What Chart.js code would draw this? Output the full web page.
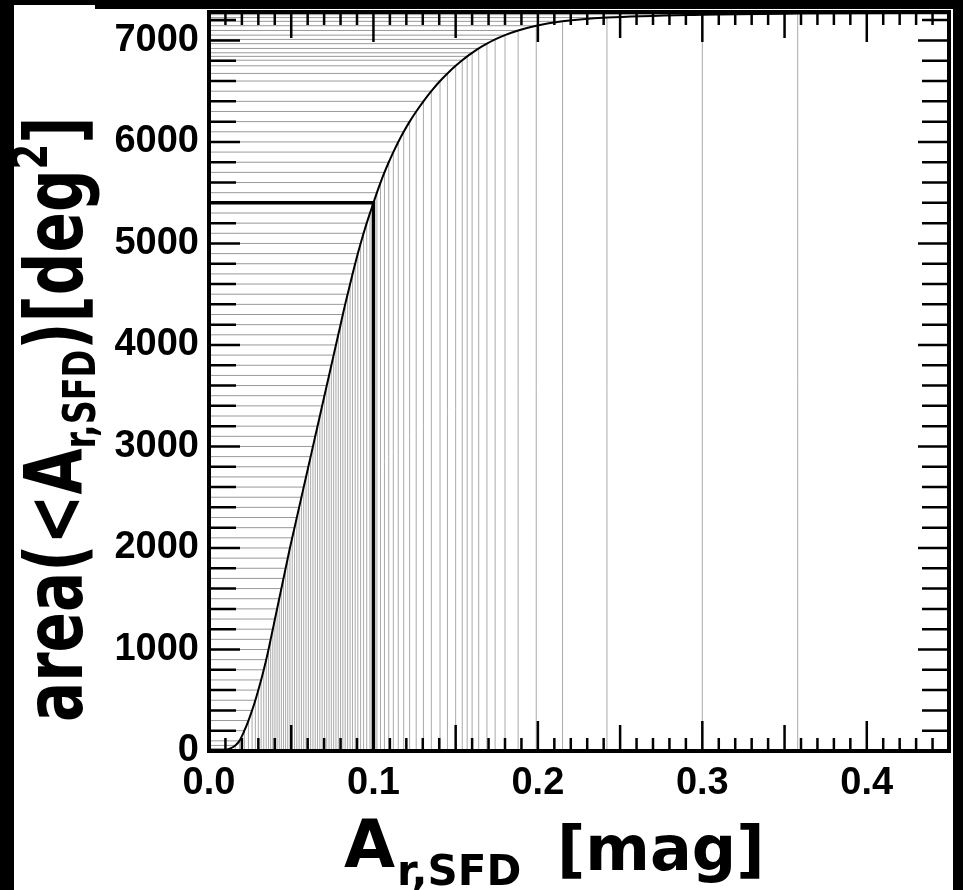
<!DOCTYPE html>
<html>
<head>
<meta charset="utf-8">
<title>area(&lt;A r,SFD)</title>
<script src="https://cdn.jsdelivr.net/npm/chart.js@4.4.1/dist/chart.umd.min.js"></script>
<style>
  html, body { margin: 0; padding: 0; background: #000; }
  #page { position: relative; width: 963px; height: 890px; overflow: hidden; background: #000; }
  #panel { position: absolute; left: 14px; top: 9px; width: 939px; height: 881px; background: #fff; }
  #notch { position: absolute; left: 14px; top: 5px; width: 81px; height: 4px; background: #fff; }
  #chart { position: absolute; left: 0; top: 0; }
  .ttl { position: absolute; margin: 0; font-family: "DejaVu Sans", Verdana, sans-serif; font-weight: bold; color: #000; white-space: nowrap; line-height: 1; }
  /* rotated y title: origin = start of baseline */
  #ytitle { left: 83px; top: 654px; font-size: 80px; transform-origin: 0 68px; transform: rotate(-90deg) scaleX(0.745); }
  #ytitle .sub { font-size: 0.56em; position: relative; top: 0.3em; }
  #ytitle .sup { font-size: 0.62em; position: relative; top: -0.7em; }
</style>
</head>
<body>
<div id="page">
  <div id="panel"></div>
  <div id="notch"></div>
  <canvas id="chart" width="963" height="890"></canvas>
  <div id="ytitle" class="ttl">area(&lt;A<span class="sub">r,SFD</span>)[deg<span class="sup">2</span>]</div>
  <div class="ttl" style="left:344px; top:812px; font-size:66px;">A</div>
  <div class="ttl" style="left:397px; top:850px; font-size:42px;">r,SFD</div>
  <div class="ttl" style="left:557px; top:818px; font-size:62px;">[mag]</div>
</div>
<script>
// cumulative area (deg^2) below a given extinction cut A_r,SFD (mag)
const aCut = [
  0.006, 0.010, 0.013, 0.016, 0.0185, 0.0215, 0.0240, 0.0262, 0.0282, 0.0300,
  0.0317, 0.0333, 0.0348, 0.0362, 0.0375, 0.0388, 0.0401, 0.0414, 0.0427, 0.0440,
  0.0453, 0.0466, 0.0479, 0.0492, 0.0506, 0.0520, 0.0534, 0.0548, 0.0562, 0.0576,
  0.0590, 0.0604, 0.0618, 0.0632, 0.0646, 0.0660, 0.0674, 0.0688, 0.0702, 0.0716,
  0.0730, 0.0744, 0.0758, 0.0772, 0.0786, 0.0800, 0.0814, 0.0828, 0.0843, 0.0858,
  0.0873, 0.0889, 0.0905, 0.0922, 0.0940, 0.0959, 0.0979, 0.1000, 0.1021, 0.1043,
  0.1067, 0.1093, 0.1121, 0.1151, 0.1184, 0.1220, 0.1260, 0.1304, 0.1352, 0.1405,
  0.1450, 0.1500, 0.1540, 0.1570, 0.1600, 0.1640, 0.1690, 0.1740, 0.1800, 0.1880,
  0.1990, 0.2150, 0.2420, 0.3000, 0.3580, 0.4500
];
const areaBelow = [
  0, 8, 25, 55, 100, 200, 300, 400, 500, 600,
  700, 800, 900, 1000, 1100, 1200, 1300, 1400, 1500, 1600,
  1700, 1800, 1900, 2000, 2100, 2200, 2300, 2400, 2500, 2600,
  2700, 2800, 2900, 3000, 3100, 3200, 3300, 3400, 3500, 3600,
  3700, 3800, 3900, 4000, 4100, 4200, 4300, 4400, 4500, 4600,
  4700, 4800, 4900, 5000, 5100, 5200, 5300, 5400, 5500, 5600,
  5700, 5800, 5900, 6000, 6100, 6200, 6300, 6400, 6500, 6600,
  6675, 6750, 6805, 6843, 6878, 6921, 6968, 7010, 7052, 7098,
  7145, 7188, 7225, 7254, 7264, 7268
];
// highlighted cut
const markX = 0.1;
const markY = 5400;

const xTickValues = [0, 0.1, 0.2, 0.3, 0.4];
const yTickValues = [0, 1000, 2000, 3000, 4000, 5000, 6000, 7000];

// curve points
const curvePts = aCut.map((a, i) => ({ x: a, y: areaBelow[i] }));

// hatching: a line from each curve point to each axis (null breaks the line)
const hatchH = [];
const hatchV = [];
for (let i = 1; i < aCut.length - 1; i++) {
  hatchH.push({ x: 0, y: areaBelow[i] }, { x: aCut[i], y: areaBelow[i] }, { x: aCut[i], y: null });
  hatchV.push({ x: aCut[i], y: 0 }, { x: aCut[i], y: areaBelow[i] }, { x: aCut[i], y: null });
}
const markPts = [{ x: 0, y: markY }, { x: markX, y: markY }, { x: markX, y: 0 }];

// frame with inward ticks on all four sides
const frameTicks = {
  id: 'frameTicks',
  afterDatasetsDraw(chart) {
    const { ctx, chartArea: a, scales: { x, y } } = chart;
    ctx.save();
    ctx.strokeStyle = '#000';
    ctx.lineWidth = 2.5;
    ctx.beginPath();
    for (let i = 0; i <= 45; i++) {
      const px = x.getPixelForValue(i / 100);
      const len = i % 10 === 0 ? 30 : (i % 5 === 0 ? 26 : 13);
      ctx.moveTo(px, a.bottom); ctx.lineTo(px, a.bottom - len);
      ctx.moveTo(px, a.top); ctx.lineTo(px, a.top + len);
    }
    for (let j = 0; j <= 36; j++) {
      const v = j * 200;
      const py = y.getPixelForValue(v);
      const len = v % 1000 === 0 ? 31 : 27;
      ctx.moveTo(a.left, py); ctx.lineTo(a.left + len, py);
      ctx.moveTo(a.right, py); ctx.lineTo(a.right - len, py);
    }
    ctx.stroke();
    ctx.lineWidth = 4;
    ctx.strokeRect(a.left, a.top, a.right - a.left, a.bottom - a.top);
    ctx.restore();
  }
};

const tickFont = { family: '"Liberation Sans", Arial, sans-serif', weight: 'bold', size: 38 };

new Chart(document.getElementById('chart'), {
  type: 'line',
  data: {
    datasets: [
      { label: 'area', data: curvePts, borderColor: '#000', borderWidth: 2, pointRadius: 0, cubicInterpolationMode: 'monotone', fill: false },
      { label: 'cut', data: markPts, borderColor: '#000', borderWidth: 3.5, pointRadius: 0, fill: false },
      { label: 'hatchH', data: hatchH, borderColor: '#999', borderWidth: 1, pointRadius: 0, spanGaps: false, fill: false },
      { label: 'hatchV', data: hatchV, borderColor: '#aaa', borderWidth: 1, pointRadius: 0, spanGaps: false, fill: false }
    ]
  },
  options: {
    responsive: false,
    animation: false,
    devicePixelRatio: 1,
    layout: { padding: { left: 0, top: 12, right: 14, bottom: 0 } },
    plugins: { legend: { display: false }, tooltip: { enabled: false } },
    scales: {
      x: {
        type: 'linear', min: 0, max: 0.45,
        afterFit: s => { s.height = 139; s.paddingLeft = 0; s.paddingRight = 0; },
        afterBuildTicks: s => { s.ticks = xTickValues.map(v => ({ value: v })); },
        grid: { display: false, drawTicks: false },
        border: { display: false },
        ticks: { font: tickFont, color: '#000', padding: 10, maxRotation: 0, autoSkip: false, callback: v => Number(v).toFixed(1) }
      },
      y: {
        type: 'linear', min: 0, max: 7280,
        afterFit: s => { s.width = 209; s.paddingTop = 0; s.paddingBottom = 0; },
        afterBuildTicks: s => { s.ticks = yTickValues.map(v => ({ value: v })); },
        grid: { display: false, drawTicks: false },
        border: { display: false },
        ticks: { font: tickFont, color: '#000', padding: 10, autoSkip: false, callback: v => String(v) }
      }
    }
  },
  plugins: [frameTicks]
});
</script>
</body>
</html>
